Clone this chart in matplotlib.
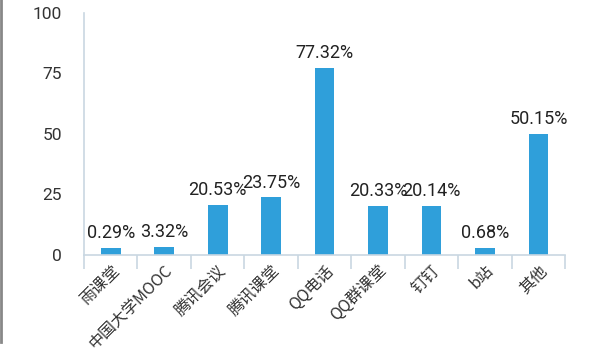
import matplotlib
matplotlib.use("Agg")
from matplotlib import pyplot as plt
from matplotlib.lines import Line2D
import numpy as np

plt.rcParams['font.family'] = ['Roboto', 'Noto Sans CJK SC', 'DejaVu Sans']

# data
platforms = ["雨课堂", "中国大学MOOC", "腾讯会议", "腾讯课堂", "QQ电话",
             "QQ群课堂", "钉钉", "b站", "其他"]
labels = ["0.29%", "3.32%", "20.53%", "23.75%", "77.32%",
          "20.33%", "20.14%", "0.68%", "50.15%"]
# bar heights as drawn (the small ones are drawn taller than their value)
heights = [2.9, 3.32, 20.53, 23.75, 77.32, 20.33, 20.14, 2.9, 50.15]
yticks = [0, 25, 50, 75, 100]

axis_col = "#c9d7e2"
bar_col = "#2f9fda"

fig = plt.figure(figsize=(6, 3.53), dpi=100)
ax = fig.add_axes([0.14, 0.2776, 0.802, 0.686])

x = np.arange(len(platforms))
ax.bar(x, heights, width=0.37, color=bar_col, zorder=2)

for xi, h, lab in zip(x, heights, labels):
    ax.text(xi, h + 2.4, lab, ha="center", va="bottom", fontsize=13, color="#222222")

ax.set_xlim(-0.5, len(platforms) - 0.5)
ax.set_ylim(0, 100)
ax.set_yticks(yticks)
ax.tick_params(axis="y", length=0, pad=16, labelsize=12.5, labelcolor="#333333")

ax.set_xticks(x)
ax.set_xticklabels(platforms, rotation=45, ha="right", rotation_mode="anchor",
                   fontsize=11.5, color="#333333", family=['Noto Sans CJK SC', 'DejaVu Sans'])
ax.tick_params(axis="x", which="major", length=0, pad=5)
ax.set_xticks(np.arange(len(platforms) + 1) - 0.5, minor=True)
ax.tick_params(axis="x", which="minor", length=10, color=axis_col, width=1.2)

for s in ["top", "right"]:
    ax.spines[s].set_visible(False)
for s in ["left", "bottom"]:
    ax.spines[s].set_color(axis_col)
    ax.spines[s].set_linewidth(1.2)

# screenshot border on the left edge
fig.add_artist(Line2D([0.002, 0.002], [0.03, 1.0], color="#888888", lw=2))

fig.savefig("out.png", dpi=100)
